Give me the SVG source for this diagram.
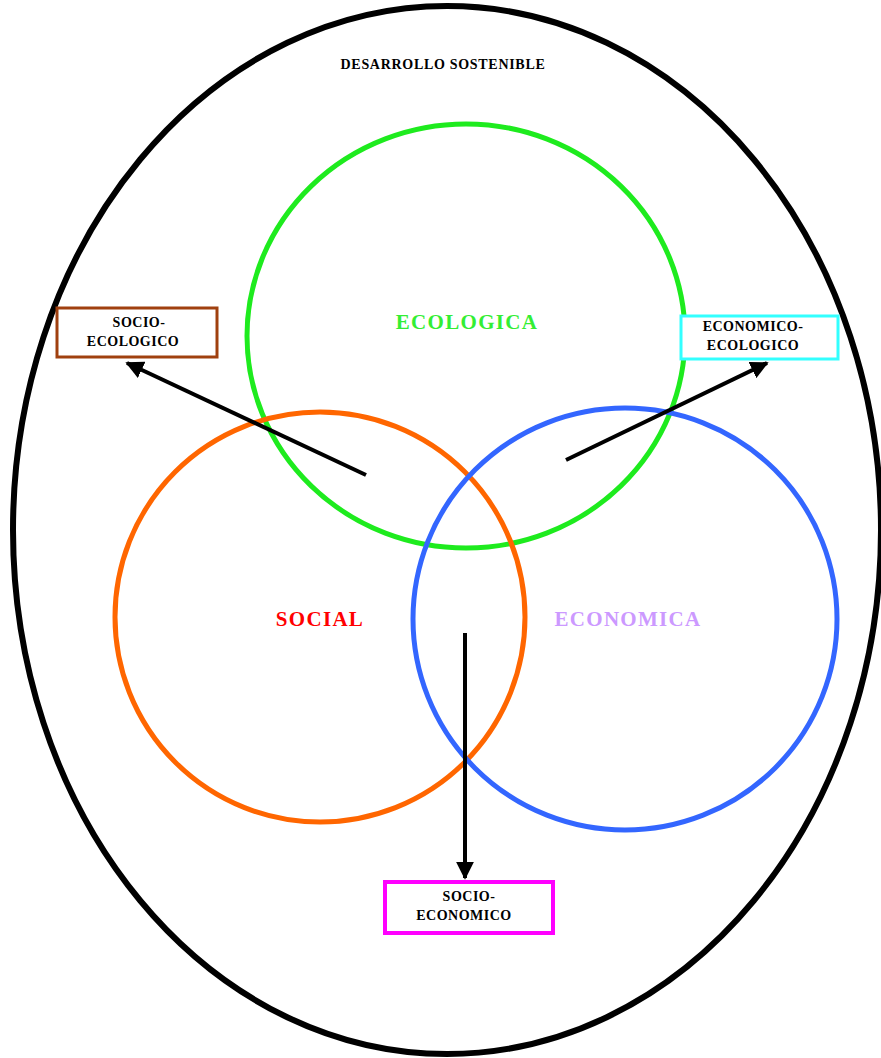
<svg xmlns="http://www.w3.org/2000/svg" width="881" height="1058" viewBox="0 0 881 1058">
  <defs>
    <marker id="arrow" viewBox="0 0 10 10" refX="9" refY="5" markerWidth="4.5" markerHeight="4.5" orient="auto" markerUnits="strokeWidth">
      <path d="M0,0 L10,5 L0,10 z" fill="#000"/>
    </marker>
    <style>
      .t { font-family: "Liberation Serif", "Times New Roman", serif; font-weight: bold; text-anchor: middle; }
      .small { font-size: 14px; fill: #000; letter-spacing: 0.5px; }
      .title { letter-spacing: 0.7px; }
      .big { font-size: 21px; letter-spacing: 1.3px; }
      .ring { fill: none; stroke-width: 5; }
      .box { fill: #fff; }
      .conn { stroke: #000; stroke-width: 4; fill: none; marker-end: url(#arrow); }
    </style>
  </defs>
  <rect width="881" height="1058" fill="#fff"/>

  <g id="desarrollo-sostenible">
    <ellipse cx="447" cy="530" rx="434" ry="524" fill="none" stroke="#000" stroke-width="6"/>
    <text class="t small title" x="443" y="69">DESARROLLO SOSTENIBLE</text>
  </g>

  <g id="ecologica">
    <ellipse class="ring" cx="466" cy="336" rx="219" ry="212" stroke="#1EEB1E"/>
    <text class="t big" x="467" y="329" fill="#33EE33">ECOLOGICA</text>
  </g>

  <g id="social">
    <ellipse class="ring" cx="320" cy="617" rx="205" ry="205" stroke="#FF6600"/>
    <text class="t big" x="320" y="626" fill="#FF0000">SOCIAL</text>
  </g>

  <g id="economica">
    <ellipse class="ring" cx="625" cy="619" rx="212" ry="211" stroke="#3366FF"/>
    <text class="t big" x="628" y="626" fill="#CC99FF">ECONOMICA</text>
  </g>

  <g id="connectors">
    <line class="conn" x1="366" y1="475" x2="127" y2="363"/>
    <line class="conn" x1="566" y1="460" x2="767" y2="363"/>
    <line class="conn" x1="465" y1="633" x2="465" y2="878"/>
  </g>

  <g id="socio-ecologico">
    <rect class="box" x="57" y="308" width="160" height="49" stroke="#A0400F" stroke-width="3"/>
    <text class="t small" x="139" y="327">SOCIO-</text>
    <text class="t small" x="133" y="346">ECOLOGICO</text>
  </g>

  <g id="economico-ecologico">
    <rect class="box" x="681" y="316" width="157" height="43" stroke="#33FFFF" stroke-width="3"/>
    <text class="t small" x="753" y="331">ECONOMICO-</text>
    <text class="t small" x="753" y="350">ECOLOGICO</text>
  </g>

  <g id="socio-economico">
    <rect class="box" x="385" y="882" width="168" height="51" stroke="#FF00FF" stroke-width="4"/>
    <text class="t small" x="469" y="901">SOCIO-</text>
    <text class="t small" x="464" y="920">ECONOMICO</text>
  </g>
</svg>
